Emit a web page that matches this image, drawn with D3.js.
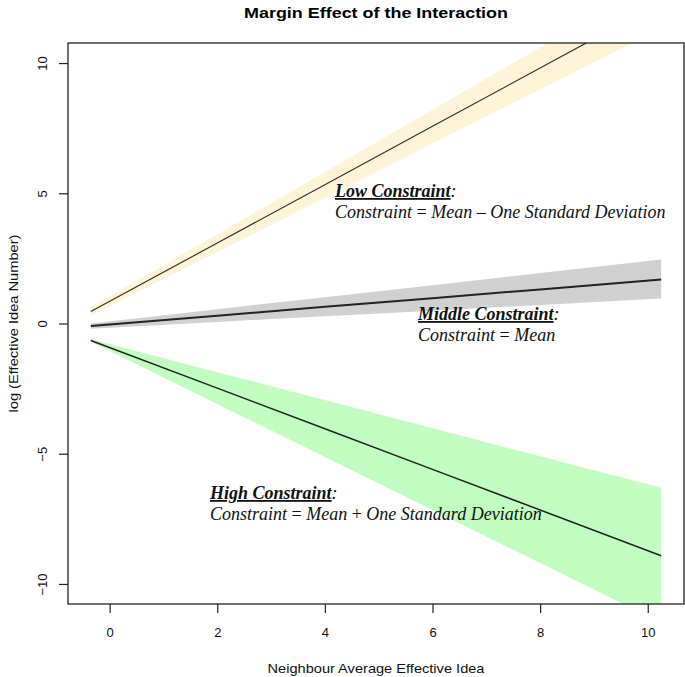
<!doctype html>
<html lang="en">
<head>
  <meta charset="utf-8">
  <title>Margin Effect of the Interaction</title>
  <style>
    body { margin: 0; background: #fff; }
    .tick-label { font-family: "Liberation Sans", Arial, sans-serif; font-size: 13px; fill: #111; }
    .axis-title { font-family: "Liberation Sans", Arial, sans-serif; font-size: 13px; fill: #111; }
    .note { font-family: "Liberation Serif", "Times New Roman", serif; font-size: 18px; fill: #111; font-style: italic; }
  </style>
</head>
<body>
<div id="chart"></div>
<script src="https://d3js.org/d3.v7.min.js"></script>
<script>
  // x values where each fitted line and its band are read
  const xValues = [-0.35, 2, 4, 6, 8, 10.25];

  // low constraint (mean - 1 sd)
  const lowFit = [0.46, 3.09, 5.33, 7.57, 9.81, 12.33];
  const lowLower = [0.30, 2.74, 4.82, 6.90, 8.98, 11.32];
  const lowUpper = [0.62, 3.43, 5.82, 8.21, 10.60, 13.29];

  // middle constraint (mean)
  const midFit = [-0.10, 0.30, 0.64, 0.97, 1.31, 1.69];
  const midLower = [-0.20, 0.06, 0.28, 0.49, 0.71, 0.96];
  const midUpper = [0.00, 0.55, 1.01, 1.47, 1.94, 2.46];

  // high constraint (mean + 1 sd)
  const highFit = [-0.65, -2.48, -4.04, -5.60, -7.16, -8.92];
  const highLower = [-0.70, -3.09, -5.13, -7.16, -9.20, -11.49];
  const highUpper = [-0.60, -1.87, -2.94, -4.02, -5.10, -6.31];

  const xTicks = [0, 2, 4, 6, 8, 10];
  const yTicks = [-10, -5, 0, 5, 10];

  const width = 685, height = 677;
  const margin = { top: 43, right: 1, bottom: 73, left: 68 };

  const svg = d3.select('#chart').append('svg')
    .attr('width', width)
    .attr('height', height);

  const x = d3.scaleLinear().domain([-0.774, 10.674]).range([margin.left, width - margin.right]);
  const y = d3.scaleLinear().domain([-10.77, 10.77]).range([height - margin.bottom, margin.top]);

  svg.append('clipPath').attr('id', 'plot-clip')
    .append('rect')
    .attr('x', margin.left).attr('y', margin.top)
    .attr('width', width - margin.left - margin.right)
    .attr('height', height - margin.top - margin.bottom);

  const plot = svg.append('g').attr('clip-path', 'url(#plot-clip)');

  const series = [
    { fit: lowFit, lower: lowLower, upper: lowUpper, fill: '#fdf4d8', lw: 1.2, stroke: '#333' },
    { fit: midFit, lower: midLower, upper: midUpper, fill: '#d0d0d0', lw: 2, stroke: '#222' },
    { fit: highFit, lower: highLower, upper: highUpper, fill: '#c1fcc1', lw: 1.5, stroke: '#222' }
  ];

  const area = d3.area()
    .x(d => x(d.x))
    .y0(d => y(d.lo))
    .y1(d => y(d.hi));

  const line = d3.line()
    .x(d => x(d.x))
    .y(d => y(d.y));

  // bands first, then the fitted lines on top
  series.forEach(s => {
    const rows = xValues.map((v, i) => ({ x: v, lo: s.lower[i], hi: s.upper[i] }));
    plot.append('path').datum(rows).attr('d', area).attr('fill', s.fill);
  });
  series.forEach(s => {
    const rows = xValues.map((v, i) => ({ x: v, y: s.fit[i] }));
    plot.append('path').datum(rows).attr('d', line)
      .attr('fill', 'none').attr('stroke', s.stroke).attr('stroke-width', s.lw);
  });

  // plot frame
  svg.append('rect')
    .attr('x', margin.left).attr('y', margin.top)
    .attr('width', width - margin.left - margin.right)
    .attr('height', height - margin.top - margin.bottom)
    .attr('fill', 'none').attr('stroke', '#222').attr('stroke-width', 1.3);

  // x axis
  const xAxis = svg.append('g')
    .attr('transform', `translate(0,${height - margin.bottom})`)
    .call(d3.axisBottom(x).tickValues(xTicks).tickSize(9).tickPadding(15));
  xAxis.select('.domain').remove();
  xAxis.selectAll('line').attr('stroke', '#222').attr('stroke-width', 1.2);
  xAxis.selectAll('text').attr('class', 'tick-label').attr('font-family', null).attr('font-size', null).attr('fill', null);

  // y axis with rotated labels
  const yAxis = svg.append('g')
    .attr('transform', `translate(${margin.left},0)`)
    .call(d3.axisLeft(y).tickValues(yTicks).tickSize(9).tickFormat(d3.format('d')));
  yAxis.select('.domain').remove();
  yAxis.selectAll('line').attr('stroke', '#222').attr('stroke-width', 1.2);
  yAxis.selectAll('text')
    .attr('class', 'tick-label').attr('font-family', null).attr('font-size', null).attr('fill', null)
    .attr('x', null).attr('dy', null)
    .attr('text-anchor', 'middle')
    .attr('transform', 'translate(-21,0) rotate(-90)');

  // titles (the reference text is a little stretched, so widths are fixed)
  svg.append('text')
    .attr('x', (margin.left + width - margin.right) / 2).attr('y', 18)
    .attr('text-anchor', 'middle')
    .attr('textLength', 264).attr('lengthAdjust', 'spacingAndGlyphs')
    .style('font-family', '"Liberation Sans", Arial, sans-serif')
    .style('font-weight', 'bold').style('font-size', '15px')
    .text('Margin Effect of the Interaction');

  svg.append('text')
    .attr('class', 'axis-title')
    .attr('x', 376).attr('y', 673)
    .attr('text-anchor', 'middle')
    .attr('textLength', 217).attr('lengthAdjust', 'spacingAndGlyphs')
    .text('Neighbour Average Effective Idea');

  svg.append('text')
    .attr('class', 'axis-title')
    .attr('transform', `translate(18,${y(0)}) rotate(-90)`)
    .attr('text-anchor', 'middle')
    .attr('textLength', 178).attr('lengthAdjust', 'spacingAndGlyphs')
    .text('log (Effective Idea Number)');

  // annotations
  const notes = [
    { x: 335, y: 197, head: 'Low Constraint', rest: ['Constraint', ' = ', 'Mean', ' \u2013 ', 'One Standard Deviation'] },
    { x: 418, y: 320, head: 'Middle Constraint', rest: ['Constraint', ' = ', 'Mean'] },
    { x: 210, y: 499, head: 'High Constraint', rest: ['Constraint', ' = ', 'Mean', ' + ', 'One Standard Deviation'] }
  ];

  notes.forEach(n => {
    const t1 = svg.append('text').attr('class', 'note').attr('x', n.x).attr('y', n.y);
    t1.append('tspan').style('font-weight', 'bold').style('text-decoration', 'underline').text(n.head);
    t1.append('tspan').text(':');

    const t2 = svg.append('text').attr('class', 'note').attr('x', n.x).attr('y', n.y + 21);
    n.rest.forEach((part, i) => {
      t2.append('tspan').style('font-style', i % 2 ? 'normal' : 'italic').text(part);
    });
  });
</script>
</body>
</html>
